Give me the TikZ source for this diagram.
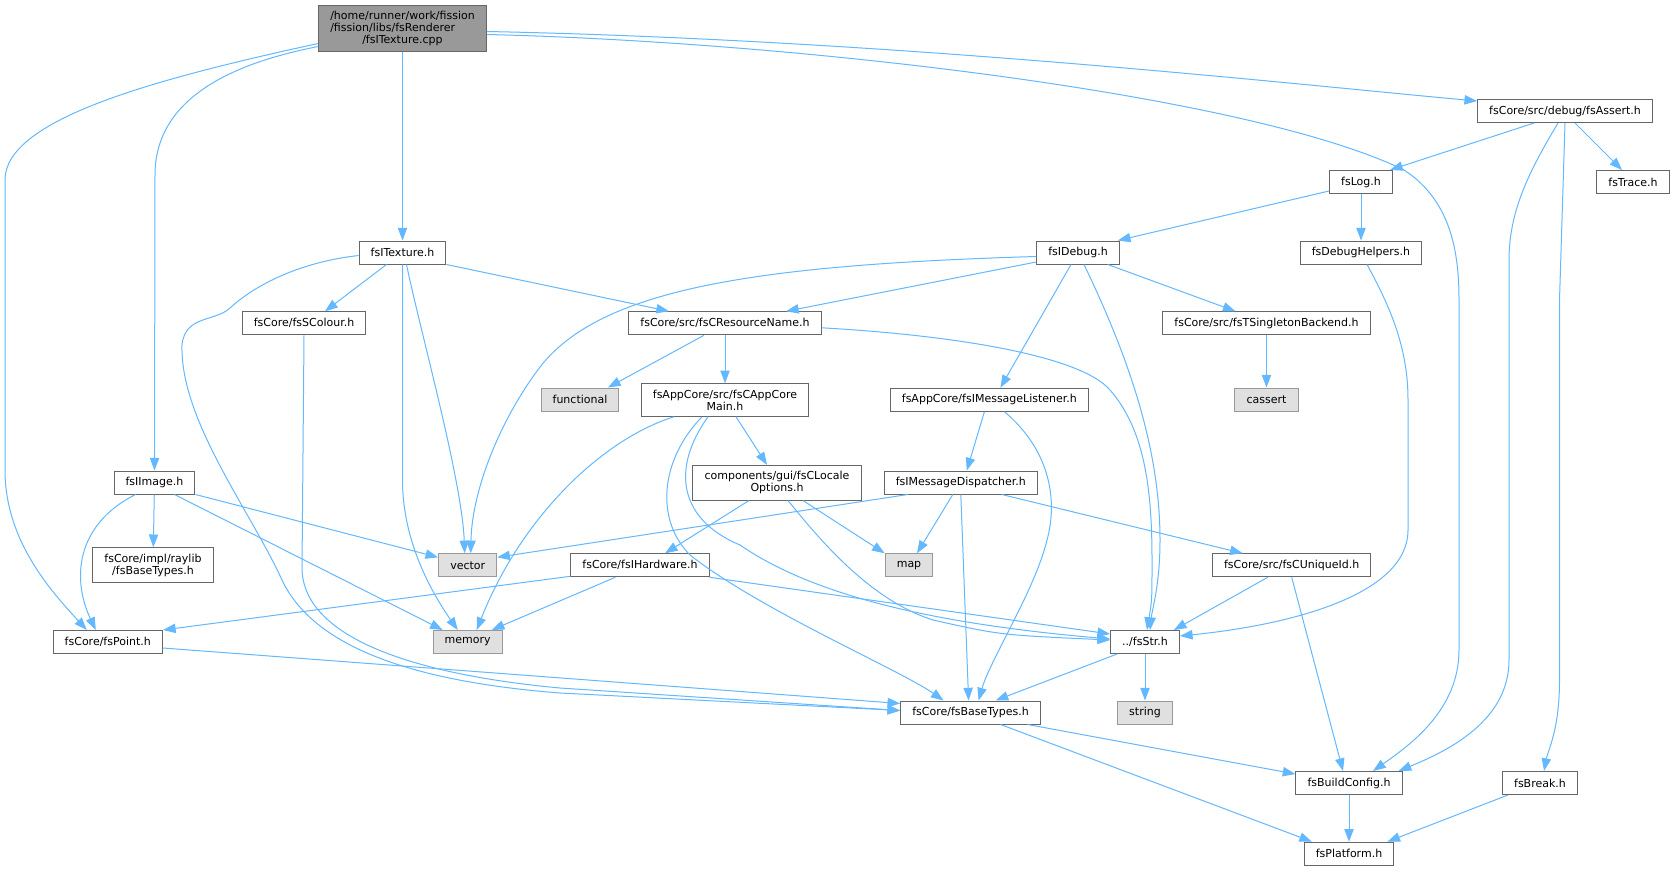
\documentclass[tikz,border=0pt]{standalone}
\usepackage{fontspec}
\setmainfont{DejaVu Sans}
\usetikzlibrary{arrows.meta,calc}
\definecolor{edgeblue}{HTML}{63B8FF}
\definecolor{nodeborder}{HTML}{666666}
\definecolor{rootfill}{HTML}{999999}
\definecolor{sysfill}{HTML}{E0E0E0}
\definecolor{sysborder}{HTML}{999999}
\begin{document}
\begin{tikzpicture}[x=0.75pt,y=-0.75pt,font=\fontsize{8.25}{9}\selectfont]
        % Styles
        \tikzstyle{hdr}=[draw=nodeborder,fill=white,line width=0.75pt,inner xsep=8.7pt,inner ysep=4.5pt,minimum height=17.25pt,align=center]
        \tikzstyle{syshdr}=[hdr,draw=sysborder,fill=sysfill]
        \tikzstyle{rootfile}=[hdr,fill=rootfill]
        \tikzstyle{incl}=[draw=edgeblue,line width=0.75pt,-{Triangle[length=9.5pt,width=7pt]}]
        %The graphic
        \fill[white] (0,0) rectangle (1674,871);
        \useasboundingbox (0,0) rectangle (1674,871);
        %files
        \node[rootfile,align=left] (root) at (402.5,28.5) {/home/runner/work/fission\\/fission/libs/fsRenderer\\\hspace*{24pt}/fsITexture.cpp};
        \node[hdr] (texture) at (402.5,252.5) {fsITexture.h};
        \node[hdr] (scolour) at (304,323.3) {fsCore/fsSColour.h};
        \node[hdr] (resname) at (725,323.3) {fsCore/src/fsCResourceName.h};
        \node[syshdr] (functional) at (580,399.5) {functional};
        \node[hdr] (appcore) at (725,400) {fsAppCore/src/fsCAppCore\\Main.h};
        \node[hdr] (listener) at (989.4,399.7) {fsAppCore/fsIMessageListener.h};
        \node[hdr] (singleton) at (1266.5,323.3) {fsCore/src/fsTSingletonBackend.h};
        \node[syshdr] (cassert) at (1266.5,399.5) {cassert};
        \node[hdr] (idebug) at (1078,252.5) {fsIDebug.h};
        \node[hdr] (assertH) at (1565,111) {fsCore/src/debug/fsAssert.h};
        \node[hdr] (log) at (1361,182) {fsLog.h};
        \node[hdr] (trace) at (1633,182) {fsTrace.h};
        \node[hdr] (debughelp) at (1361,252.5) {fsDebugHelpers.h};
        \node[hdr] (image) at (154.5,482.5) {fsIImage.h};
        \node[hdr] (raylib) at (153,565) {fsCore/impl/raylib\\/fsBaseTypes.h};
        \node[syshdr] (vector) at (467.7,565.3) {vector};
        \node[hdr] (locale) at (777,482.7) {components/gui/fsCLocale\\Options.h};
        \node[hdr] (dispatcher) at (960.8,482.5) {fsIMessageDispatcher.h};
        \node[hdr] (hardware) at (640,565.3) {fsCore/fsIHardware.h};
        \node[syshdr] (map) at (909,565.3) {map};
        \node[hdr] (uniqueid) at (1291.7,565.3) {fsCore/src/fsCUniqueId.h};
        \node[hdr] (point) at (107.8,642) {fsCore/fsPoint.h};
        \node[syshdr] (memory) at (467.7,642) {memory};
        \node[hdr] (str) at (1145,642) {../fsStr.h};
        \node[hdr] (basetypes) at (970.6,712.5) {fsCore/fsBaseTypes.h};
        \node[syshdr] (string) at (1145,712.5) {string};
        \node[hdr] (buildcfg) at (1349,783) {fsBuildConfig.h};
        \node[hdr] (breakH) at (1540,783) {fsBreak.h};
        \node[hdr] (platform) at (1349,853.7) {fsPlatform.h};
        %includes of the cpp
        \draw[incl] (root) -- (texture);
        \draw[incl] ($(root.west)+(0,18)$) .. controls (250,60) and (155,90) .. (155,175) -- (image.north);
        \draw[incl] ($(root.west)+(0,15)$) .. controls (150,80) and (5,120) .. (5,180) -- (5,470) .. controls (5,540) and (50,590) .. ($(point.north)+(-21,0)$);
        \draw[incl] ($(root.east)+(0,6)$) .. controls (800,42) and (1250,95) .. (1404,170) .. controls (1450,200) and (1459,250) .. (1459,300) -- (1459,650) .. controls (1459,710) and (1410,745) .. ($(buildcfg.north)+(24,0)$);
        \draw[incl] ($(root.east)+(0,3)$) .. controls (900,40) and (1300,85) .. ($(assertH.west)+(0,-10)$);
        %fsITexture.h
        \draw[incl] ($(texture.south)+(-16,0)$) -- ($(scolour.north)+(21,0)$);
        \draw[incl] (texture.south east) -- ($(resname.north)+(-56,0)$);
        \draw[incl] ($(texture.south)+(4,0)$) .. controls (420,330) and (462,480) .. ($(vector.north)+(-3,0)$);
        \draw[incl] (texture.south) -- (402.5,480) .. controls (402.5,540) and (430,590) .. ($(memory.north)+(-10,0)$);
        \draw[incl] ($(texture.west)+(0,3)$) .. controls (300,262) and (255,285) .. (230,308) .. controls (215,322) and (185,315) .. (182,345) .. controls (180,420) and (250,510) .. (282,580) .. controls (315,650) and (420,682) .. (560,693) -- ($(basetypes.west)+(0,-2)$);
        \draw[incl] (scolour.south) -- (302,570) .. controls (305,640) and (420,675) .. (560,688) -- ($(basetypes.west)+(0,-2)$);
        %fsAssert.h
        \draw[incl] ($(assertH.south)+(-31,0)$) -- ($(log.north east)+(-3,0)$);
        \draw[incl] ($(assertH.south)+(10,0)$) -- ($(trace.north)+(-11,0)$);
        \draw[incl] ($(assertH.south)+(-7,0)$) .. controls (1530,170) and (1509,210) .. (1509,260) -- (1509,660) .. controls (1509,720) and (1450,750) .. ($(buildcfg.north east)+(-4,0)$);
        \draw[incl] (assertH.south) -- (1559.5,300) -- (1559.5,680) .. controls (1559.5,730) and (1548,750) .. ($(breakH.north)+(4,0)$);
        %fsLog.h
        \draw[incl] ($(log.west)+(0,9)$) -- ($(idebug.north east)+(-2,0)$);
        \draw[incl] (log) -- (debughelp);
        \draw[incl] ($(debughelp.south)+(6,0)$) .. controls (1392,310) and (1408,350) .. (1408,400) -- (1408,530) .. controls (1408,595) and (1290,625) .. ($(str.east)+(0,-6)$);
        %fsIDebug.h
        \draw[incl] ($(idebug.west)+(0,4)$) .. controls (750,265) and (600,290) .. (540,367) .. controls (500,420) and (472,490) .. ($(vector.north)+(3,0)$);
        \draw[incl] ($(idebug.west)+(0,9.5)$) -- ($(resname.north)+(61,0)$);
        \draw[incl] ($(idebug.south)+(-7,0)$) -- ($(listener.north)+(11,0)$);
        \draw[incl] ($(idebug.south east)+(-12,0)$) -- ($(singleton.north)+(-31,0)$);
        \draw[incl] ($(idebug.south)+(6,0)$) .. controls (1130,360) and (1160,450) .. (1160,540) .. controls (1160,585) and (1152,610) .. ($(str.north)+(5,0)$);
        %fsCResourceName.h
        \draw[incl] ($(resname.east)+(0,4.5)$) .. controls (950,335) and (1080,355) .. (1110,390) .. controls (1145,430) and (1152,490) .. (1152,560) .. controls (1152,600) .. ($(str.north)+(2,0)$);
        \draw[incl] ($(resname.south)+(-21,0)$) -- ($(functional.north)+(28,0)$);
        \draw[incl] (resname) -- (appcore);
        \draw[incl] (singleton) -- (cassert);
        %fsCAppCoreMain.h
        \draw[incl] ($(appcore.south)+(-51,0)$) .. controls (600,440) and (520,520) .. ($(memory.north)+(9,0)$);
        \draw[incl] ($(appcore.south)+(-23,0)$) .. controls (660,460) and (655,520) .. (690,555) .. controls (760,610) and (900,670) .. ($(basetypes.north)+(-27,0)$);
        \draw[incl] ($(appcore.south)+(-17,0)$) .. controls (670,470) and (680,520) .. (740,545) .. controls (820,600) and (950,625) .. ($(str.west)+(0,-3)$);
        \draw[incl] ($(appcore.south)+(11,0)$) -- ($(locale.north)+(-10,0)$);
        %fsCLocaleOptions.h
        \draw[incl] ($(locale.south)+(-28,0)$) -- ($(hardware.north)+(25,0)$);
        \draw[incl] ($(locale.south)+(26,0)$) -- (map.north west);
        \draw[incl] ($(locale.south)+(11,0)$) .. controls (820,540) and (870,600) .. (933,620) .. controls (1000,635) .. ($(str.west)+(0,-2)$);
        %fsIMessageListener.h and fsIMessageDispatcher.h
        \draw[incl] ($(listener.south)+(-5,0)$) -- ($(dispatcher.north)+(6,0)$);
        \draw[incl] ($(listener.south)+(15,0)$) .. controls (1050,450) and (1058,500) .. (1047,540) .. controls (1035,590) and (990,660) .. ($(basetypes.north)+(8,0)$);
        \draw[incl] ($(dispatcher.south)+(-53,0)$) -- ($(vector.east)+(0,-8)$);
        \draw[incl] ($(dispatcher.south)+(-8,0)$) -- ($(map.north)+(8,0)$);
        \draw[incl] (dispatcher.south) -- ($(basetypes.north)+(-2,0)$);
        \draw[incl] ($(dispatcher.south)+(41,0)$) -- ($(uniqueid.north)+(-49,0)$);
        %fsIHardware.h and fsCUniqueId.h
        \draw[incl] ($(hardware.west)+(0,11)$) -- (point.north east);
        \draw[incl] ($(hardware.south west)+(45,0)$) -- ($(memory.north)+(24,0)$);
        \draw[incl] (hardware.south east) -- ($(str.west)+(0,-8)$);
        \draw[incl] ($(uniqueid.south)+(-24,0)$) -- ($(str.north east)+(-6,0)$);
        \draw[incl] (uniqueid.south) -- ($(buildcfg.north)+(-6,0)$);
        %fsIImage.h
        \draw[incl] (image) -- (raylib);
        \draw[incl] (image.south east) -- ($(vector.west)+(0,-8)$);
        \draw[incl] ($(image.south)+(20,0)$) -- ($(memory.north)+(-25,0)$);
        \draw[incl] ($(image.south)+(-19,0)$) .. controls (75,525) and (72,580) .. ($(point.north)+(-12,0)$);
        \draw[incl] ($(point.east)+(0,6)$) -- ($(basetypes.west)+(0,-9)$);
        %bottom
        \draw[incl] (str) -- (string);
        \draw[incl] ($(str.south west)+(7,0)$) -- ($(basetypes.north)+(25,0)$);
        \draw[incl] ($(basetypes.south)+(57,0)$) -- ($(buildcfg.west)+(0,-9)$);
        \draw[incl] ($(basetypes.south)+(30,0)$) -- ($(platform.north)+(-37,0)$);
        \draw[incl] (buildcfg) -- (platform);
        \draw[incl] ($(breakH.south west)+(6,0)$) -- ($(platform.north east)+(-7,0)$);
\end{tikzpicture}
\end{document}
